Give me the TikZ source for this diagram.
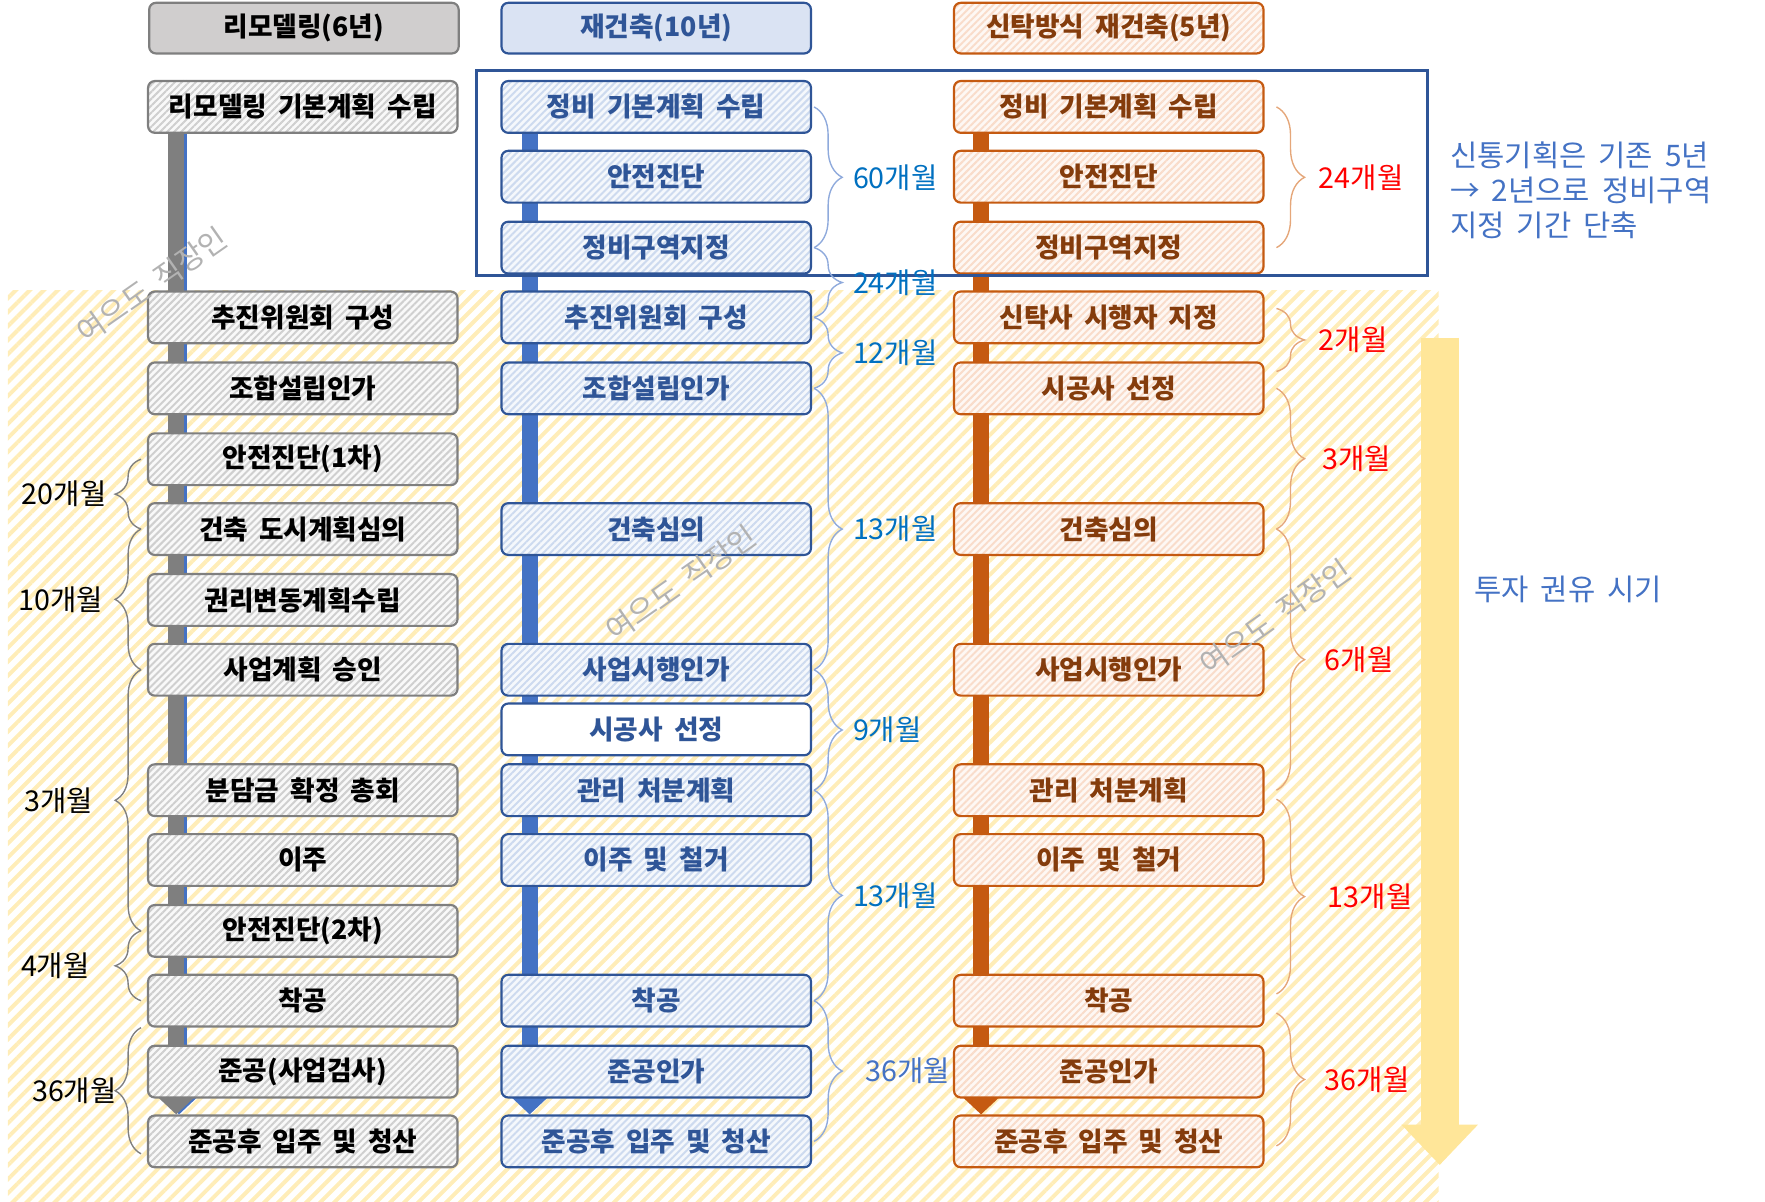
\documentclass[tikz,border=0pt]{standalone}
\usepackage{fontspec}
\setmainfont{Noto Sans CJK KR}[WordSpace=1.8]
\usetikzlibrary{arrows.meta,decorations.pathreplacing,patterns.meta}

\definecolor{remgray}{HTML}{7F7F7F}
\definecolor{remfill}{HTML}{F9F9F9}
\definecolor{remhatch}{HTML}{CFCFCF}
\definecolor{remheadfill}{HTML}{D0CECE}
\definecolor{recblue}{HTML}{2F5597}
\definecolor{recbar}{HTML}{4472C4}
\definecolor{recfill}{HTML}{F5F8FC}
\definecolor{rechatch}{HTML}{CDDAEF}
\definecolor{recheadfill}{HTML}{DAE3F3}
\definecolor{truorange}{HTML}{C55A11}
\definecolor{trutext}{HTML}{843C0C}
\definecolor{trufill}{HTML}{FEF8F4}
\definecolor{truhatch}{HTML}{F9DCCA}
\definecolor{bgyellow}{HTML}{FFEDB8}
\definecolor{arrowyellow}{HTML}{FFE699}
\definecolor{labblue}{HTML}{0070C0}
\definecolor{braceblue}{HTML}{8FAADC}
\definecolor{braceorange}{HTML}{E5A77A}
\definecolor{bracegray}{HTML}{808080}
\definecolor{notecol}{HTML}{4472C4}
\definecolor{labred}{HTML}{FF0000}

\pgfdeclarelayer{back}
\pgfdeclarelayer{bars}
\pgfsetlayers{back,bars,main}

\begin{document}
\begin{tikzpicture}[x=0.02cm, y=-0.02cm,
  stepbox/.style={rounded corners=0.12cm, minimum width=5.5cm, minimum height=0.92cm,
    inner sep=0pt, line width=1.1pt, font=\bfseries\fontsize{13.5}{13.5}\selectfont},
  remstep/.style={stepbox, draw=remgray, preaction={fill=remfill},
    pattern={Lines[angle=45,distance=2.5pt,line width=1pt]}, pattern color=remhatch},
  recstep/.style={stepbox, draw=recblue, text=recblue, preaction={fill=recfill},
    pattern={Lines[angle=45,distance=2.5pt,line width=1pt]}, pattern color=rechatch},
  trustep/.style={stepbox, draw=truorange, text=trutext, preaction={fill=trufill},
    pattern={Lines[angle=45,distance=2.5pt,line width=1pt]}, pattern color=truhatch},
  remhead/.style={stepbox, draw=remgray, fill=remheadfill, minimum height=0.9cm},
  rechead/.style={stepbox, draw=recblue, text=recblue, fill=recheadfill, minimum height=0.9cm},
  truhead/.style={trustep, minimum height=0.9cm},
  bar/.style={line width=0.28cm, -{Triangle[width=0.62cm,length=0.3cm]}},
  bracer/.style={decorate, decoration={brace, amplitude=0.5cm}, line width=0.7pt},
  bracel/.style={decorate, decoration={brace, mirror, amplitude=0.46cm}, line width=0.7pt},
  dur/.style={inner sep=0pt, font=\fontsize{14.5}{14.5}\selectfont},
  wmark/.style={text=black!30, rotate=35, font=\fontsize{15}{15}\selectfont}]
  \useasboundingbox (0,0) rectangle (1568,1067);

  % headers
  \node[remhead] (rem0) at (270,25) {리모델링(6년)};
  \node[rechead] (rec0) at (583,25) {재건축(10년)};
  \node[truhead] (tru0) at (985,25) {신탁방식 재건축(5년)};

  % remodelling
  \node[remstep] (rem1) at (269,95) {리모델링 기본계획 수립};
  \node[remstep] (rem2) at (269,282) {추진위원회 구성};
  \node[remstep] (rem3) at (269,345) {조합설립인가};
  \node[remstep] (rem4) at (269,408) {안전진단(1차)};
  \node[remstep] (rem5) at (269,470) {건축 도시계획심의};
  \node[remstep] (rem6) at (269,533) {권리변동계획수립};
  \node[remstep] (rem7) at (269,595) {사업계획 승인};
  \node[remstep] (rem8) at (269,702) {분담금 확정 총회};
  \node[remstep] (rem9) at (269,764) {이주};
  \node[remstep] (rem10) at (269,827) {안전진단(2차)};
  \node[remstep] (rem11) at (269,889) {착공};
  \node[remstep] (rem12) at (269,952) {준공(사업검사)};
  \node[remstep] (rem13) at (269,1014) {준공후 입주 및 청산};

  % reconstruction
  \node[recstep] (rec1) at (583,95) {정비 기본계획 수립};
  \node[recstep] (rec2) at (583,157) {안전진단};
  \node[recstep] (rec3) at (583,220) {정비구역지정};
  \node[recstep] (rec4) at (583,282) {추진위원회 구성};
  \node[recstep] (rec5) at (583,345) {조합설립인가};
  \node[recstep] (rec6) at (583,470) {건축심의};
  \node[recstep] (rec7) at (583,595) {사업시행인가};
  \node[stepbox, draw=recblue, text=recblue, fill=white] (rec8) at (583,648) {시공사 선정};
  \node[recstep] (rec9) at (583,702) {관리 처분계획};
  \node[recstep] (rec10) at (583,764) {이주 및 철거};
  \node[recstep] (rec11) at (583,889) {착공};
  \node[recstep] (rec12) at (583,952) {준공인가};
  \node[recstep] (rec13) at (583,1014) {준공후 입주 및 청산};

  % trust
  \node[trustep] (tru1) at (985,95) {정비 기본계획 수립};
  \node[trustep] (tru2) at (985,157) {안전진단};
  \node[trustep] (tru3) at (985,220) {정비구역지정};
  \node[trustep] (tru4) at (985,282) {신탁사 시행자 지정};
  \node[trustep] (tru5) at (985,345) {시공사 선정};
  \node[trustep] (tru6) at (985,470) {건축심의};
  \node[trustep] (tru7) at (985,595) {사업시행인가};
  \node[trustep] (tru8) at (985,702) {관리 처분계획};
  \node[trustep] (tru9) at (985,764) {이주 및 철거};
  \node[trustep] (tru10) at (985,889) {착공};
  \node[trustep] (tru11) at (985,952) {준공인가};
  \node[trustep] (tru12) at (985,1014) {준공후 입주 및 청산};

  \begin{pgfonlayer}{back}
    \fill[pattern={Lines[angle=45,distance=5pt,line width=2pt]}, pattern color=bgyellow]
      (7,258) rectangle (1278,1067);
  \end{pgfonlayer}

  \begin{pgfonlayer}{bars}
    \draw[bar, recbar] ([xshift=0.57cm]rem1.north west) -- ([xshift=0.57cm]rem13.north west);
    \draw[bar, remgray] ([xshift=0.52cm]rem1.north west) -- ([xshift=0.52cm]rem13.north west);
    \draw[bar, recbar] ([xshift=0.52cm]rec1.west) -- ([xshift=0.52cm]rec13.north west);
    \draw[bar, truorange] ([xshift=0.5cm]tru1.west) -- ([xshift=0.5cm]tru12.north west);
  \end{pgfonlayer}

  % shortened period
  \draw[recblue, line width=1.6pt] (423,63) rectangle (1268,245);
  \node[anchor=west, align=left, text=notecol, inner sep=0pt,
    font=\fontsize{15}{17.6}\selectfont] (note) at (1288,169)
    {신통기획은 기존 5년\\→ 2년으로 정비구역\\지정 기간 단축};

  % investment window
  \coordinate (invtop) at (1279,300);
  \coordinate (invend) at (1279,1035);
  \draw[arrowyellow, line width=0.68cm, -{Triangle[width=1.32cm,length=0.72cm]}] (invtop) -- (invend);
  \node[text=notecol, font=\fontsize{15}{15}\selectfont] (invest) at (1393,524) {투자 권유 시기};

  % durations, reconstruction
  \draw[bracer, braceblue] ([xshift=1pt]rec1.east) -- node[dur, labblue, right=0.68cm] {60개월} ([xshift=1pt]rec3.east);
  \draw[bracer, braceblue] ([xshift=1pt]rec3.east) -- node[dur, labblue, right=0.68cm] {24개월} ([xshift=1pt]rec4.east);
  \draw[bracer, braceblue] ([xshift=1pt]rec4.east) -- node[dur, labblue, right=0.68cm] {12개월} ([xshift=1pt]rec5.east);
  \draw[bracer, braceblue] ([xshift=1pt]rec5.east) -- node[dur, labblue, right=0.68cm] {13개월} ([xshift=1pt]rec7.east);
  \draw[bracer, braceblue] ([xshift=1pt]rec7.east) -- node[dur, labblue, right=0.68cm] {9개월} ([xshift=1pt]rec9.east);
  \draw[bracer, braceblue] ([xshift=1pt]rec9.east) -- node[dur, labblue, right=0.68cm] {13개월} ([xshift=1pt]rec11.east);
  \draw[bracer, braceblue] ([xshift=1pt]rec11.east) -- node[dur, notecol, right=0.9cm] {36개월} ([xshift=1pt]rec13.east);

  % durations, trust
  \draw[bracer, braceorange] ([xshift=6pt]tru1.east) -- node[dur, labred, right=0.74cm] {24개월} ([xshift=6pt]tru3.east);
  \draw[bracer, braceorange] ([xshift=6pt,yshift=0.16cm]tru4.east) -- node[dur, labred, right=0.74cm] {2개월} ([xshift=6pt,yshift=0.3cm]tru5.east);
  \draw[bracer, braceorange] ([xshift=6pt]tru5.east) -- node[dur, labred, right=0.8cm] {3개월} ([xshift=6pt]tru6.east);
  \draw[bracer, braceorange] ([xshift=6pt]tru6.east) -- node[dur, labred, right=0.85cm] {6개월} ([xshift=6pt]tru8.east);
  \draw[bracer, braceorange] ([xshift=6pt,yshift=-0.16cm]tru8.east) -- node[dur, labred, right=0.9cm] {13개월} ([xshift=6pt,yshift=0.12cm]tru10.east);
  \draw[bracer, braceorange] ([xshift=6pt,yshift=-0.22cm]tru10.east) -- node[dur, labred, right=0.85cm] {36개월} ([xshift=6pt,yshift=-0.08cm]tru12.east);

  % durations, remodelling
  \draw[bracel, bracegray] ([xshift=-3pt]rem4.west) -- node[dur, text=black, left=0.6cm] {20개월} ([xshift=-3pt]rem5.west);
  \draw[bracel, bracegray] ([xshift=-3pt]rem5.west) -- node[dur, text=black, left=0.66cm] {10개월} ([xshift=-3pt]rem7.west);
  \draw[bracel, bracegray] ([xshift=-3pt]rem7.west) -- node[dur, text=black, left=0.84cm] {3개월} ([xshift=-3pt]rem10.west);
  \draw[bracel, bracegray] ([xshift=-3pt]rem10.west) -- node[dur, text=black, left=0.9cm] {4개월} ([xshift=-3pt]rem11.west);
  \draw[bracel, bracegray] ([xshift=-3pt]rem11.south west) -- node[dur, text=black, left=0.42cm] {36개월} ([xshift=-3pt,yshift=-0.22cm]rem13.west);

  % watermarks
  \node[wmark] (wm1) at (135,253) {여으도 직장인};
  \node[wmark] (wm2) at (605,518) {여으도 직장인};
  \node[wmark] (wm3) at (1133,548) {여으도 직장인};
\end{tikzpicture}
\end{document}
